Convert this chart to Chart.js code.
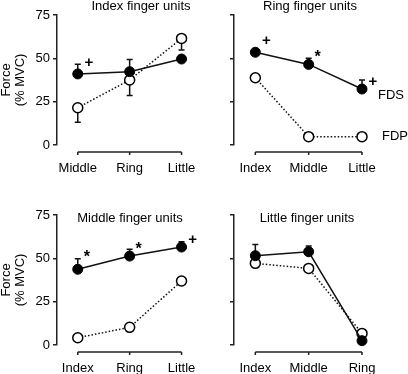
<!DOCTYPE html>
<html><head><meta charset="utf-8">
<script src="https://cdn.jsdelivr.net/npm/chart.js@4/dist/chart.umd.min.js"></script>
<style>
html,body{margin:0;padding:0;background:#fff;width:408px;height:374px;overflow:hidden;position:relative}
canvas{position:absolute}
</style></head><body>
<canvas id="c0" width="204" height="187" style="left:0;top:0"></canvas>
<canvas id="c1" width="204" height="187" style="left:204px;top:0"></canvas>
<canvas id="c2" width="204" height="187" style="left:0;top:187px"></canvas>
<canvas id="c3" width="204" height="187" style="left:204px;top:187px"></canvas>
<script>
// ---- data ----
const titles = ['Index finger units', 'Ring finger units', 'Middle finger units', 'Little finger units'];
const seriesNames = ['FDS', 'FDP'];
const yTicks = [0, 25, 50, 75];
const yTitle = ['Force', '(% MVC)'];

const categoriesTL = ['Middle', 'Ring', 'Little'];
const fdsTL = [41, 42.3, 49.6];
const fdpTL = [21.5, 37.5, 61.5];
const fdsErrTL = [5.6, 7, 0];
const fdpErrTL = [8.4, 9, 6.7];
const marksTL = ['+', '', ''];

const categoriesTR = ['Index', 'Middle', 'Little'];
const fdsTR = [53.5, 46.5, 32.3];
const fdpTR = [38.8, 4.8, 4.8];
const fdsErrTR = [0, 3.5, 5.2];
const fdpErrTR = [0, 0, 0];
const marksTR = ['+', '*', '+'];

const categoriesBL = ['Index', 'Ring', 'Little'];
const fdsBL = [43.7, 51.3, 56.5];
const fdpBL = [4.2, 10.2, 36.9];
const fdsErrBL = [6, 4, 3];
const fdpErrBL = [0, 0, 0];
const marksBL = ['*', '*', '+'];

const categoriesBR = ['Index', 'Middle', 'Ring'];
const fdsBR = [51.5, 53.8, 2.5];
const fdpBR = [47.1, 44.2, 6.7];
const fdsErrBR = [6.5, 3.3, 0];
const fdpErrBR = [0, 0, 0];
const marksBR = ['', '', ''];

// ---- layout / style ----
const FONT = "'Liberation Sans', Arial, Helvetica, sans-serif";
Chart.defaults.font.family = FONT;
Chart.defaults.font.size = 13;
Chart.defaults.color = '#000';
const INK = '#111';
const AXIS = '#222';
const markOffset = {'+': {dx: 11, dy: -8, size: 15}, '*': {dx: 9, dy: -11, size: 16}};
const seriesLabelOffset = [{dx: 16, dy: 6}, {dx: 20, dy: 0}];

const panels = [
  {id: 'c0', cats: categoriesTL, fds: fdsTL, fdp: fdpTL, fdsErr: fdsErrTL, fdpErr: fdpErrTL, marks: marksTL,
   title: titles[0], titleX: 141, titleY: 6, yLabels: true, axisW: 57, padR: 2, top: 15, xH: 42, seriesLabels: false},
  {id: 'c1', cats: categoriesTR, fds: fdsTR, fdp: fdpTR, fdsErr: fdsErrTR, fdpErr: fdpErrTR, marks: marksTR,
   title: titles[1], titleX: 106, titleY: 6, yLabels: false, axisW: 30, padR: 30, top: 15, xH: 42, seriesLabels: true},
  {id: 'c2', cats: categoriesBL, fds: fdsBL, fdp: fdpBL, fdsErr: fdsErrBL, fdpErr: fdpErrBL, marks: marksBL,
   title: titles[2], titleX: 130, titleY: 31, yLabels: true, axisW: 57, padR: 2, top: 28, xH: 29, seriesLabels: false},
  {id: 'c3', cats: categoriesBR, fds: fdsBR, fdp: fdpBR, fdsErr: fdsErrBR, fdpErr: fdpErrBR, marks: marksBR,
   title: titles[3], titleX: 103, titleY: 31, yLabels: false, axisW: 30, padR: 30, top: 28, xH: 29, seriesLabels: false}
];

const panelPlugin = {
  id: 'panelDecor',
  beforeDatasetsDraw(chart) {
    const p = chart.options.plugins.panelDecor;
    const ctx = chart.ctx, xs = chart.scales.x, ys = chart.scales.y;
    ctx.save();
    ctx.strokeStyle = INK; ctx.lineWidth = 1.5;
    // error bars
    [[p.fds, p.fdsErr, 1], [p.fdp, p.fdpErr, -1]].forEach(([vals, errs, dir]) => {
      vals.forEach((v, i) => {
        if (!errs[i]) return;
        const x = xs.getPixelForValue(i);
        const y0 = ys.getPixelForValue(v);
        const y1 = ys.getPixelForValue(v + dir * errs[i]);
        ctx.beginPath();
        ctx.moveTo(x, y0); ctx.lineTo(x, y1);
        ctx.moveTo(x - 3, y1); ctx.lineTo(x + 3, y1);
        ctx.stroke();
      });
    });
    // detached x axis
    const ya = chart.chartArea.bottom + 7;
    const x0 = xs.getPixelForValue(0), x1 = xs.getPixelForValue(p.cats.length - 1);
    ctx.strokeStyle = AXIS;
    ctx.beginPath();
    ctx.moveTo(x0, ya); ctx.lineTo(x1, ya);
    p.cats.forEach((c, i) => {
      const x = xs.getPixelForValue(i);
      ctx.moveTo(x, ya); ctx.lineTo(x, ya + 3);
    });
    ctx.stroke();
    ctx.restore();
  },
  afterDraw(chart) {
    const p = chart.options.plugins.panelDecor;
    const ctx = chart.ctx, xs = chart.scales.x, ys = chart.scales.y;
    ctx.save();
    ctx.fillStyle = '#000';
    // title
    ctx.font = '13px ' + FONT;
    ctx.textAlign = 'center'; ctx.textBaseline = 'middle';
    ctx.fillText(p.title, p.titleX, p.titleY);
    // significance marks
    p.marks.forEach((m, i) => {
      if (!m) return;
      const o = markOffset[m];
      ctx.font = 'bold ' + o.size + 'px ' + FONT;
      const met = ctx.measureText(m);
      const cx = xs.getPixelForValue(i) + o.dx;
      const cy = ys.getPixelForValue(p.fds[i]) + o.dy;
      ctx.textBaseline = 'alphabetic';
      ctx.fillText(m, cx, cy + (met.actualBoundingBoxAscent - met.actualBoundingBoxDescent) / 2);
    });
    // series labels
    if (p.seriesLabels) {
      ctx.font = '13px ' + FONT;
      ctx.textAlign = 'left'; ctx.textBaseline = 'middle';
      const last = p.cats.length - 1;
      [p.fds, p.fdp].forEach((vals, k) => {
        const o = seriesLabelOffset[k];
        ctx.fillText(seriesNames[k], xs.getPixelForValue(last) + o.dx, ys.getPixelForValue(vals[last]) + o.dy);
      });
    }
    ctx.restore();
  }
};

panels.forEach(p => {
  new Chart(document.getElementById(p.id), {
    type: 'line',
    data: {
      datasets: [
        {label: seriesNames[0], data: p.fds.map((v, i) => ({x: i, y: v})), order: 0,
         borderColor: INK, borderWidth: 1.5, pointRadius: 5, pointBorderWidth: 1,
         pointBackgroundColor: '#000', pointBorderColor: '#000', clip: false, tension: 0},
        {label: seriesNames[1], data: p.fdp.map((v, i) => ({x: i, y: v})), order: 1,
         borderColor: INK, borderWidth: 1.5, borderDash: [1.5, 2], pointRadius: 5, pointBorderWidth: 1.5,
         pointBackgroundColor: '#fff', pointBorderColor: '#000', clip: false, tension: 0}
      ]
    },
    options: {
      responsive: false, animation: false, devicePixelRatio: 1,
      layout: {padding: {left: 0, right: p.padR, top: p.top, bottom: 0}},
      plugins: {legend: {display: false}, tooltip: {enabled: false}, panelDecor: p},
      scales: {
        x: {
          type: 'linear', min: -0.4, max: 2.3,
          afterBuildTicks: s => { s.ticks = p.cats.map((c, i) => ({value: i})); },
          afterFit: s => { s.height = p.xH; },
          grid: {display: false}, border: {display: false},
          ticks: {autoSkip: false, maxRotation: 0, padding: 8, color: '#000',
                  callback: v => p.cats[v]}
        },
        y: {
          min: 0, max: 75,
          afterBuildTicks: s => { s.ticks = yTicks.map(v => ({value: v})); },
          afterFit: s => { s.width = p.axisW; },
          border: {display: true, color: AXIS, width: 1.5},
          grid: {display: true, drawOnChartArea: false, drawTicks: true, tickLength: 4, color: AXIS, lineWidth: 1.5},
          ticks: {padding: 3, color: '#000', callback: v => p.yLabels ? String(v) : ''},
          title: {display: p.yLabels, text: yTitle, color: '#000',
                  font: {size: 13, lineHeight: 1.1}, padding: {top: -1, bottom: 0}}
        }
      }
    },
    plugins: [panelPlugin]
  });
});
</script>
</body></html>
